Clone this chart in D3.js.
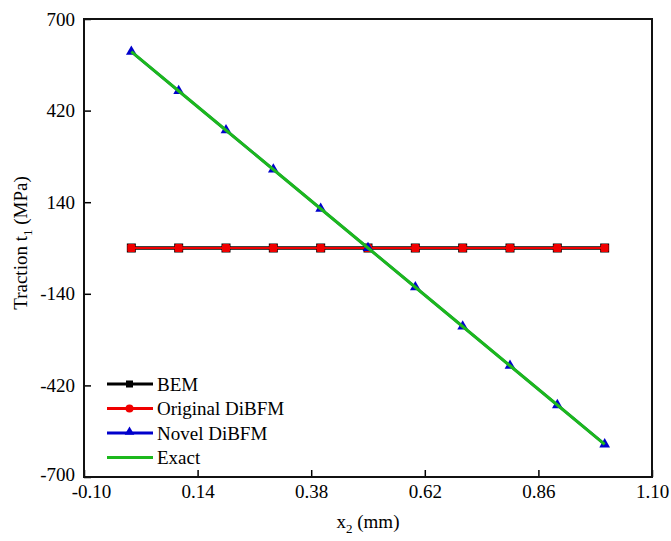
<!DOCTYPE html>
<html>
<head>
<meta charset="utf-8">
<script src="https://cdn.jsdelivr.net/npm/d3@7"></script>
<style>
  body { margin: 0; background: #fff; }
  svg text { font-family: "Liberation Serif", "Times New Roman", serif; fill: #000; }
</style>
</head>
<body>
<main></main>
<script>
const xValues = [0, 0.1, 0.2, 0.3, 0.4, 0.5, 0.6, 0.7, 0.8, 0.9, 1.0]
const bemValues = [0, 0, 0, 0, 0, 0, 0, 0, 0, 0, 0]
const originalValues = [0, 0, 0, 0, 0, 0, 0, 0, 0, 0, 0]
const novelValues = [600, 480, 360, 240, 120, 0, -120, -240, -360, -480, -600]
const exactValues = [600, 480, 360, 240, 120, 0, -120, -240, -360, -480, -600]
const xTicks = [-0.10, 0.14, 0.38, 0.62, 0.86, 1.10]
const yTicks = [-700, -420, -140, 140, 420, 700]
const seriesNames = ["BEM", "Original DiBFM", "Novel DiBFM", "Exact"]

const width = 671, height = 541
const margin = { top: 19, right: 19, bottom: 64, left: 84 }

const svg = d3.select("main").append("svg")
    .attr("width", width)
    .attr("height", height)

const x = d3.scaleLinear()
    .domain([-0.1, 1.1])
    .range([margin.left, width - margin.right])

const y = d3.scaleLinear()
    .domain([-700, 700])
    .range([height - margin.bottom, margin.top])

const fmt2 = d3.format(".2f")

// axes, ticks pointing inside
let xAxis = svg.append("g")
    .attr("transform", `translate(0, ${height - margin.bottom})`)
    .call(d3.axisBottom(x).tickValues(xTicks)
        .tickFormat(d => d < 0 ? "-" + fmt2(-d) : fmt2(d))
        .tickSizeInner(-7).tickSizeOuter(0).tickPadding(8))
xAxis.select(".domain").remove()
xAxis.selectAll("line").attr("stroke-width", 1.5)
xAxis.selectAll("text").attr("font-size", 19)
    .attr("font-family", "Liberation Serif")
    .attr("dx", d => d < 0 ? 7 : 0)

let yAxis = svg.append("g")
    .attr("transform", `translate(${margin.left}, 0)`)
    .call(d3.axisLeft(y).tickValues(yTicks).tickFormat(d => d < 0 ? "-" + (-d) : d)
        .tickSizeInner(-7).tickSizeOuter(0).tickPadding(9))
yAxis.select(".domain").remove()
yAxis.selectAll("line").attr("stroke-width", 1.5)
yAxis.selectAll("text").attr("font-size", 19)
    .attr("font-family", "Liberation Serif")
    .attr("dy", d => d === -700 ? "0.2em" : "0.32em")

// frame
svg.append("rect")
    .attr("x", x(-0.1))
    .attr("y", y(700))
    .attr("width", x(1.1) - x(-0.1))
    .attr("height", y(-700) - y(700))
    .attr("fill", "none")
    .attr("stroke", "#111")
    .attr("stroke-width", 2)

// axis titles
let xTitle = svg.append("text")
    .attr("x", x(0.5))
    .attr("y", 528)
    .attr("text-anchor", "middle")
    .attr("font-size", 19)
xTitle.append("tspan").text("x")
xTitle.append("tspan").attr("dy", 5).attr("font-size", 13).text("2")
xTitle.append("tspan").attr("dy", -5).text(" (mm)")

let yTitle = svg.append("text")
    .attr("transform", `translate(27, ${y(0) - 5}) rotate(-90)`)
    .attr("text-anchor", "middle")
    .attr("font-size", 19)
yTitle.append("tspan").text("Traction t")
yTitle.append("tspan").attr("dy", 5).attr("font-size", 13).text("1")
yTitle.append("tspan").attr("dy", -5).text(" (MPa)")

const line = d3.line().x(d => x(d[0])).y(d => y(d[1]))
const zip = vals => xValues.map((v, i) => [v, vals[i]])

let plot = svg.append("g")

// BEM
plot.append("path")
    .attr("d", line(zip(bemValues)))
    .attr("fill", "none").attr("stroke", "#000").attr("stroke-width", 3.5)
plot.append("g").selectAll("rect")
    .data(zip(bemValues)).enter().append("rect")
    .attr("x", d => x(d[0]) - 4.5).attr("y", d => y(d[1]) - 4.5)
    .attr("width", 9).attr("height", 9).attr("fill", "#000")

// Original DiBFM
plot.append("path")
    .attr("d", line(zip(originalValues)))
    .attr("fill", "none").attr("stroke", "#f00000").attr("stroke-width", 2)
plot.append("g").selectAll("rect")
    .data(zip(originalValues)).enter().append("rect")
    .attr("x", d => x(d[0]) - 4).attr("y", d => y(d[1]) - 4)
    .attr("width", 8).attr("height", 8).attr("rx", 1.5).attr("fill", "#f00000")

// Novel DiBFM
const tri = d3.symbol().type(d3.symbolTriangle).size(50)
plot.append("path")
    .attr("d", line(zip(novelValues)))
    .attr("fill", "none").attr("stroke", "#0000cc").attr("stroke-width", 2.5)
plot.append("g").selectAll("path")
    .data(zip(novelValues)).enter().append("path")
    .attr("d", tri)
    .attr("transform", d => `translate(${x(d[0])}, ${y(d[1])})`)
    .attr("fill", "#0000cc")

// Exact
plot.append("path")
    .attr("d", line(zip(exactValues)))
    .attr("fill", "none").attr("stroke", "#1cb81c").attr("stroke-width", 3)

// legend
const legendColors = ["#000", "#f00000", "#0000cc", "#1cb81c"]
let legend = svg.append("g").attr("transform", "translate(107, 384)")
seriesNames.forEach((name, i) => {
    let row = legend.append("g").attr("transform", `translate(0, ${i * 24.5})`)
    row.append("line")
        .attr("x1", 0).attr("x2", 46).attr("y1", 0).attr("y2", 0)
        .attr("stroke", legendColors[i]).attr("stroke-width", 3)
    if (i === 0) {
        row.append("rect").attr("x", 19).attr("y", -3.5).attr("width", 7).attr("height", 7).attr("fill", "#000")
    } else if (i === 1) {
        row.append("circle").attr("cx", 22.5).attr("cy", 0).attr("r", 4).attr("fill", legendColors[i])
    } else if (i === 2) {
        row.append("path").attr("d", d3.symbol().type(d3.symbolTriangle).size(40))
            .attr("transform", "translate(22.5, -1)").attr("fill", legendColors[i])
    }
    row.append("text")
        .attr("x", 50).attr("y", 6.5)
        .attr("font-size", 19)
        .text(name)
})
</script>
</body>
</html>
